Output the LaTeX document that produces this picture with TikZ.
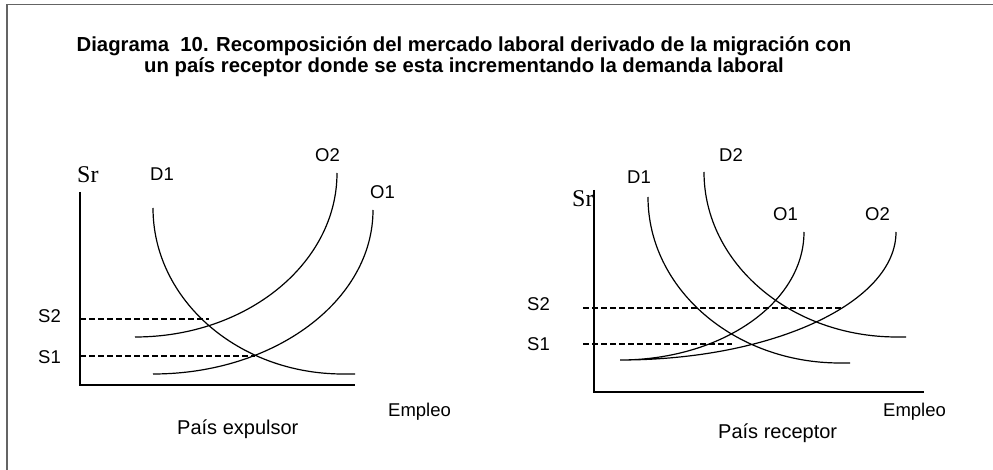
\documentclass[tikz,border=0pt]{standalone}
\usepackage{fontspec}
\setmainfont{Liberation Sans}
\newfontfamily\srfont{Liberation Serif}
\definecolor{framegray}{RGB}{100,100,100}

\begin{document}
\begin{tikzpicture}[x=1pt, y=-1pt,
    tag/.style={anchor=base west, inner sep=0pt, font=\fontsize{18.5}{21}\selectfont},
    axislbl/.style={anchor=base west, inner sep=0pt, font=\srfont\fontsize{24}{28}\selectfont},
    caption/.style={anchor=base west, inner sep=0pt, font=\fontsize{20}{24}\selectfont},
    titleline/.style={anchor=base, inner sep=0pt, font=\bfseries\fontsize{20.3}{24}\selectfont},
    curve/.style={line width=1.2pt},
    axisline/.style={line width=1.4pt},
    guide/.style={line width=1.2pt, dash pattern=on 6pt off 3pt}
  ]
    \useasboundingbox (0,0) rectangle (993,470);

    \draw[framegray, line width=1.6pt]
    (7,470) -- (7,4.5) -- (993,4.5)
    ;

    \node[titleline] (title1) at (464,51.7) {Diagrama~~10. Recomposición del mercado laboral derivado de la migración con};
    \node[titleline] (title2) at (464,72.3) {un país receptor donde se esta incrementando la demanda laboral};

    % pais expulsor
    \node[axislbl] (srA) at (77,183) {Sr};
    \node[tag] (dA1) at (150,181) {D1};
    \node[tag] (oA2) at (315,162) {O2};
    \node[tag] (oA1) at (370,199) {O1};
    \node[tag] (sA2) at (38,322) {S2};
    \node[tag] (sA1) at (38,363) {S1};
    \node[tag] (empA) at (388,416) {Empleo};
    \node[caption] (capA) at (177,434) {País expulsor};

    \draw[axisline]
    (80,192) -- (80,385) -- (355,385)
    ;

    \draw[guide]
    (80,319) -- (209,319)
    (80,356) -- (255,356)
    ;

    \draw[curve]
    (153,208) arc[start angle=180, end angle=90, x radius=190, y radius=166] -- (355,374)
    (135,337) arc[start angle=90, end angle=0, x radius=202, y radius=164]
    (153,374) arc[start angle=90, end angle=0, x radius=220, y radius=164]
    ;

    % pais receptor
    \node[axislbl] (srB) at (572,207) {Sr};
    \node[tag] (dB1) at (627,184) {D1};
    \node[tag] (dB2) at (719,162) {D2};
    \node[tag] (oB1) at (773,221) {O1};
    \node[tag] (oB2) at (865,221) {O2};
    \node[tag] (sB2) at (527,310) {S2};
    \node[tag] (sB1) at (527,350) {S1};
    \node[tag] (empB) at (883,416) {Empleo};
    \node[caption] (capB) at (718,438) {País receptor};

    \draw[axisline]
    (594,190) -- (594,392) -- (924,392)
    ;

    \draw[guide]
    (583,308) -- (843,308)
    (583,344) -- (732,344)
    ;

    \draw[curve]
    (648,197) arc[start angle=180, end angle=90, x radius=192, y radius=166] -- (850,363)
    (704,172) arc[start angle=180, end angle=90, x radius=193, y radius=165] -- (906,337)
    (620,360) arc[start angle=90, end angle=0, x radius=184, y radius=128]
    (620,360) arc[start angle=90, end angle=0, x radius=276, y radius=128]
    ;

  \end{tikzpicture}
\end{document}
